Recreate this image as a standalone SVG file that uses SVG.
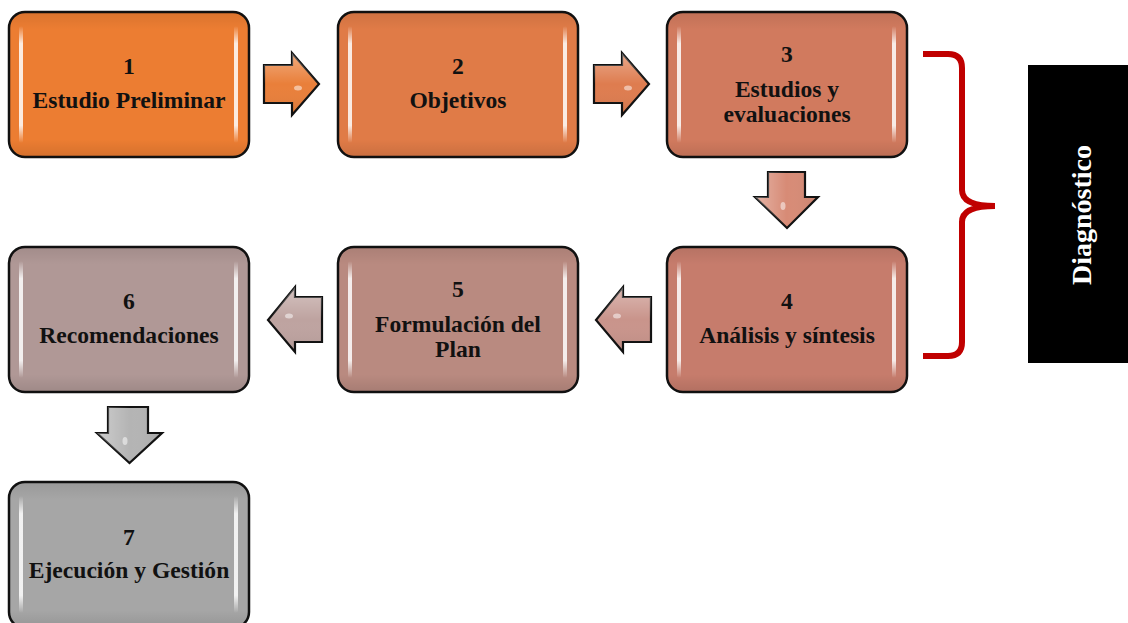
<svg xmlns="http://www.w3.org/2000/svg" width="1128" height="623" viewBox="0 0 1128 623">
  <defs>
    <linearGradient id="hl" x1="0" y1="0" x2="0" y2="1">
      <stop offset="0" stop-color="#fff" stop-opacity="0"/>
      <stop offset="0.15" stop-color="#fff" stop-opacity="0.85"/>
      <stop offset="0.85" stop-color="#fff" stop-opacity="0.85"/>
      <stop offset="1" stop-color="#fff" stop-opacity="0"/>
    </linearGradient>
    <linearGradient id="shade" x1="0" y1="0" x2="0" y2="1">
      <stop offset="0" stop-color="#000" stop-opacity="0.08"/>
      <stop offset="0.12" stop-color="#000" stop-opacity="0"/>
      <stop offset="0.88" stop-color="#000" stop-opacity="0"/>
      <stop offset="1" stop-color="#000" stop-opacity="0.1"/>
    </linearGradient>
    <linearGradient id="gloss" x1="0" y1="0" x2="0" y2="1">
      <stop offset="0" stop-color="#fff" stop-opacity="0.35"/>
      <stop offset="0.5" stop-color="#fff" stop-opacity="0"/>
      <stop offset="1" stop-color="#000" stop-opacity="0.08"/>
    </linearGradient>
    <linearGradient id="glossH" x1="0" y1="0" x2="1" y2="0">
      <stop offset="0" stop-color="#fff" stop-opacity="0.35"/>
      <stop offset="0.5" stop-color="#fff" stop-opacity="0"/>
      <stop offset="1" stop-color="#000" stop-opacity="0.08"/>
    </linearGradient>
  </defs>
  <style>
    .box { stroke: #111; stroke-width: 2.5; }
    .hl { fill: url(#hl); }
    .sh { fill: url(#shade); stroke: none; }
    .t { font-family: "Liberation Serif", "Times New Roman", serif; font-weight: bold; font-size: 23.6px; fill: #111; text-anchor: middle; }
    .arr { stroke: #111; stroke-width: 2.2; stroke-linejoin: miter; }
    .gl { stroke: none; }
    .brace { fill: none; stroke: #C00000; stroke-width: 6; }
    .diag { font-family: "Liberation Serif", "Times New Roman", serif; font-weight: bold; font-size: 28px; fill: #fff; text-anchor: middle; }
  </style>

  <g id="connectors">
    <g id="arrow-1-2">
      <path class="arr" fill="#E97F3A" d="M264,65 H292 V53 L319,84 L292,115 V103 H264 Z"/>
      <path class="gl" fill="url(#gloss)" d="M264,65 H292 V53 L319,84 L292,115 V103 H264 Z"/>
      <ellipse cx="298" cy="88" rx="4" ry="2.5" fill="#fff" opacity="0.5"/>
    </g>
    <g id="arrow-2-3">
      <path class="arr" fill="#DE7C4F" d="M594,65 H622 V53 L649,84 L622,115 V103 H594 Z"/>
      <path class="gl" fill="url(#gloss)" d="M594,65 H622 V53 L649,84 L622,115 V103 H594 Z"/>
      <ellipse cx="628" cy="88" rx="4" ry="2.5" fill="#fff" opacity="0.5"/>
    </g>
    <g id="arrow-3-4">
      <path class="arr" fill="#D78B76" d="M768,172 H805 V197 H818 L787,228 L755,197 H768 Z"/>
      <path class="gl" fill="url(#glossH)" d="M768,172 H805 V197 H818 L787,228 L755,197 H768 Z"/>
      <ellipse cx="783" cy="206" rx="2.5" ry="4" fill="#fff" opacity="0.5"/>
    </g>
    <g id="arrow-4-5">
      <path class="arr" fill="#C9948B" d="M651,297 H623 V287 L596,320 L623,352 V342 H651 Z"/>
      <path class="gl" fill="url(#gloss)" d="M651,297 H623 V287 L596,320 L623,352 V342 H651 Z"/>
      <ellipse cx="617" cy="316" rx="4" ry="2.5" fill="#fff" opacity="0.5"/>
    </g>
    <g id="arrow-5-6">
      <path class="arr" fill="#BEA3A0" d="M322,297 H295 V287 L268,320 L295,352 V342 H322 Z"/>
      <path class="gl" fill="url(#gloss)" d="M322,297 H295 V287 L268,320 L295,352 V342 H322 Z"/>
      <ellipse cx="289" cy="316" rx="4" ry="2.5" fill="#fff" opacity="0.5"/>
    </g>
    <g id="arrow-6-7">
      <path class="arr" fill="#B4B4B4" d="M108,407 H148 V433 H162 L129.5,463 L97,433 H108 Z"/>
      <path class="gl" fill="url(#glossH)" d="M108,407 H148 V433 H162 L129.5,463 L97,433 H108 Z"/>
      <ellipse cx="125" cy="441" rx="2.5" ry="4" fill="#fff" opacity="0.5"/>
    </g>
  </g>

  <g id="node-1">
    <rect class="box" x="9" y="12" width="240" height="145" rx="16" fill="#EC7D32"/>
    <rect class="sh" x="9" y="12" width="240" height="145" rx="16"/>
    <rect class="hl" x="19" y="26" width="4" height="117" rx="2"/>
    <rect class="hl" x="234" y="26" width="4" height="117" rx="2"/>
    <text class="t" x="129" y="74">1</text>
    <text class="t" x="129" y="108">Estudio Preliminar</text>
  </g>
  <g id="node-2">
    <rect class="box" x="338" y="12" width="240" height="145" rx="16" fill="#E07B47"/>
    <rect class="sh" x="338" y="12" width="240" height="145" rx="16"/>
    <rect class="hl" x="348" y="26" width="4" height="117" rx="2"/>
    <rect class="hl" x="563" y="26" width="4" height="117" rx="2"/>
    <text class="t" x="458" y="74">2</text>
    <text class="t" x="458" y="108">Objetivos</text>
  </g>
  <g id="node-3">
    <rect class="box" x="667" y="12" width="240" height="145" rx="16" fill="#D17A5E"/>
    <rect class="sh" x="667" y="12" width="240" height="145" rx="16"/>
    <rect class="hl" x="677" y="26" width="4" height="117" rx="2"/>
    <rect class="hl" x="892" y="26" width="4" height="117" rx="2"/>
    <text class="t" x="787" y="62">3</text>
    <text class="t" x="787" y="97">Estudios y</text>
    <text class="t" x="787" y="122">evaluaciones</text>
  </g>
  <g id="node-4">
    <rect class="box" x="667" y="247" width="240" height="145" rx="16" fill="#C67C6C"/>
    <rect class="sh" x="667" y="247" width="240" height="145" rx="16"/>
    <rect class="hl" x="677" y="261" width="4" height="117" rx="2"/>
    <rect class="hl" x="892" y="261" width="4" height="117" rx="2"/>
    <text class="t" x="787" y="309">4</text>
    <text class="t" x="787" y="343">Análisis y síntesis</text>
  </g>
  <g id="node-5">
    <rect class="box" x="338" y="247" width="240" height="145" rx="16" fill="#B98A80"/>
    <rect class="sh" x="338" y="247" width="240" height="145" rx="16"/>
    <rect class="hl" x="348" y="261" width="4" height="117" rx="2"/>
    <rect class="hl" x="563" y="261" width="4" height="117" rx="2"/>
    <text class="t" x="458" y="297">5</text>
    <text class="t" x="458" y="332">Formulación del</text>
    <text class="t" x="458" y="357">Plan</text>
  </g>
  <g id="node-6">
    <rect class="box" x="9" y="247" width="240" height="145" rx="16" fill="#B09896"/>
    <rect class="sh" x="9" y="247" width="240" height="145" rx="16"/>
    <rect class="hl" x="19" y="261" width="4" height="117" rx="2"/>
    <rect class="hl" x="234" y="261" width="4" height="117" rx="2"/>
    <text class="t" x="129" y="309">6</text>
    <text class="t" x="129" y="343">Recomendaciones</text>
  </g>
  <g id="node-7">
    <rect class="box" x="9" y="482" width="240" height="146" rx="16" fill="#A6A6A6"/>
    <rect class="sh" x="9" y="482" width="240" height="146" rx="16"/>
    <rect class="hl" x="19" y="496" width="4" height="117" rx="2"/>
    <rect class="hl" x="234" y="496" width="4" height="117" rx="2"/>
    <text class="t" x="129" y="545">7</text>
    <text class="t" x="129" y="578">Ejecución y Gestión</text>
  </g>

  <g id="brace">
    <path class="brace" d="M923,54 H948 Q962,54 962,68 V190 Q962,206 995,206 Q962,206 962,222 V342 Q962,356 948,356 H923"/>
  </g>
  <g id="diagnostico">
    <rect x="1028" y="65" width="102" height="298" fill="#000"/>
    <text class="diag" transform="translate(1091,215) rotate(-90)">Diagnóstico</text>
  </g>
</svg>
